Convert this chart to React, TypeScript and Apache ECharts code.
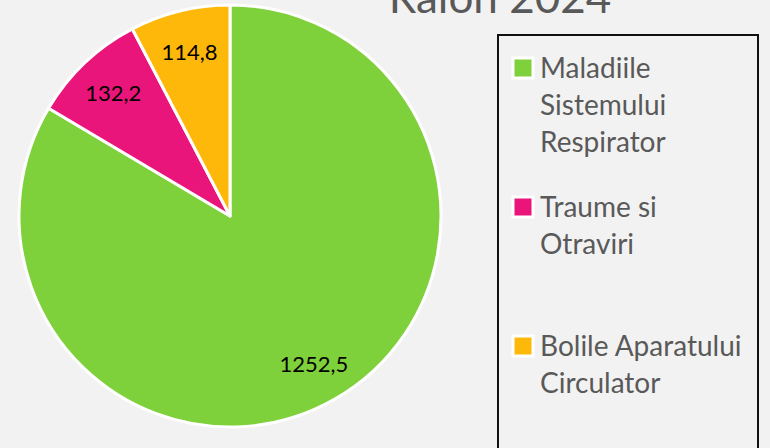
import React, { useEffect, useRef } from "react";
import * as echarts from "echarts";

const title = "Raion 2024";
const categories = [
  "Maladiile\nSistemului\nRespirator",
  "Traume si\nOtraviri",
  "Bolile Aparatului\nCirculator",
];
const values = [1252.5, 132.2, 114.8];
const colors = ["#7FD13B", "#EA157A", "#FEB80A"];

const fmt = (v: number) => v.toFixed(1).replace(".", ",");

export default function App() {
  const ref = useRef<HTMLDivElement>(null);
  useEffect(() => {
    document.body.style.margin = "0";
    const chart = echarts.init(ref.current!, null, { renderer: "svg" });
    const cx = 230;
    const cy = 216;
    const r = 211;
    const data = values.map((v, i) => ({
      name: categories[i],
      value: v,
      itemStyle: { color: colors[i] },
    }));
    const legendX = 498;
    const legendY = 35;
    const firstLine = 67;
    const step = 139;
    const lh = 37;
    const legendEls: any[] = [
      {
        type: "rect",
        shape: { x: legendX, y: legendY, width: 260, height: 430 },
        style: { fill: "#F2F2F2", stroke: "#111111", lineWidth: 2 },
        z: 1,
      },
    ];
    categories.forEach((c, i) => {
      const yc = firstLine + i * step;
      legendEls.push({
        type: "rect",
        shape: { x: 513, y: yc - 9, width: 20, height: 20 },
        style: { fill: colors[i], stroke: "#FFFFFF", lineWidth: 3 },
        z: 2,
      });
      legendEls.push({
        type: "text",
        x: 540,
        y: yc - lh / 2,
        style: {
          text: c,
          fill: "#595959",
          font: "28px Lato",
          lineHeight: lh,
          align: "left",
          verticalAlign: "top",
        },
        z: 2,
      });
    });
    chart.setOption({
      animation: false,
      backgroundColor: "#F2F2F2",
      graphic: [
        {
          type: "text",
          x: 500,
          y: 18,
          style: {
            text: title,
            fill: "#595959",
            font: "44px Lato",
            align: "center",
            verticalAlign: "bottom",
          },
        },
        ...legendEls,
      ],
      series: [
        {
          type: "pie",
          center: [cx, cy],
          radius: [0, r],
          startAngle: 90,
          clockwise: true,
          silent: true,
          label: { show: false },
          labelLine: { show: false },
          itemStyle: { borderColor: "#FFFFFF", borderWidth: 3 },
          data,
        },
        {
          type: "pie",
          center: [cx, cy],
          radius: [r * 0.58, r],
          startAngle: 90,
          clockwise: true,
          silent: true,
          itemStyle: { color: "rgba(0,0,0,0)" },
          label: {
            show: true,
            position: "inside",
            color: "#000000",
            fontFamily: "Lato",
            fontSize: 22,
            formatter: (p: any) => fmt(p.value),
          },
          labelLine: { show: false },
          data: values.map((v, i) => ({ name: categories[i], value: v })),
        },
      ],
    });
    return () => chart.dispose();
  }, []);
  return <div ref={ref} style={{ width: 770, height: 448 }} />;
}
